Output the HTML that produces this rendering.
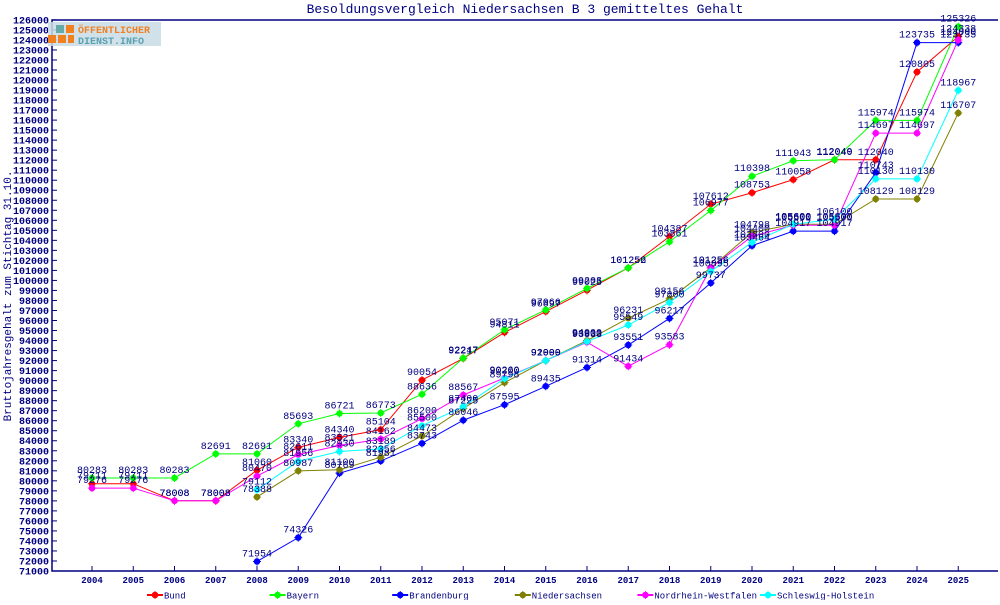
<!DOCTYPE html>
<html><head><meta charset="utf-8"><style>
body{margin:0;background:#fff;}
svg text{font-family:"Liberation Mono","DejaVu Sans Mono",monospace;fill:#000080;}
</style></head><body>
<svg id="s" width="1000" height="600" xmlns="http://www.w3.org/2000/svg"></svg>
<script>
const s=document.getElementById('s');
let h='';
const X=y=>92+(y-2004)*41.25, Y=v=>571-(v-71000)*0.01002;
h+='<rect x="0" y="0" width="1000" height="600" fill="#fff"/>';
h+='<text x="525" y="13" font-size="13" text-anchor="middle">Besoldungsvergleich Niedersachsen B 3 gemitteltes Gehalt</text>';
h+='<text transform="translate(11,296) rotate(-90)" font-size="11" text-anchor="middle">Bruttojahresgehalt zum Stichtag 31.10.</text>';
h+='<polyline points="998,20 52,20 52,571 998,571" fill="none" stroke="#000080" stroke-width="1.5"/>';
for(let v=71000;v<=126000;v+=1000){const y=Y(v);h+=`<line x1="52" x2="57" y1="${y}" y2="${y}" stroke="#000080"/><text x="49" y="${y+3.5}" font-size="10" font-weight="bold" text-anchor="end">${v}</text>`;}
for(let yr=2004;yr<=2025;yr++){const x=X(yr);h+=`<line x1="${x}" x2="${x}" y1="566" y2="571" stroke="#000080"/><text x="${x}" y="583" font-size="9" font-weight="bold" text-anchor="middle">${yr}</text>`;}
const S=[
['Bund','#ff0000',2004,[79711,79711,78008,78008,81060,83340,84340,85104,90054,92217,94811,96897,99025,101252,104387,107612,108753,110058,112040,112040,120805,124338]],
['Bayern','#00ff00',2004,[80283,80283,80283,82691,82691,85693,86721,86773,88636,92247,95071,97066,99203,101256,103861,106977,110398,111943,112049,115974,115974,125326]],
['Brandenburg','#0000ff',2008,[71954,74326,80769,81981,83743,86046,87595,89435,91314,93551,96217,99737,103464,104917,104917,110743,123735,123735]],
['Niedersachsen','#808000',2008,[78388,80987,81100,82356,84473,87225,89798,91999,94000,96231,98156,101256,104798,105600,105600,108129,108129,116707]],
['Nordrhein-Westfalen','#ff00ff',2004,[79276,79276,78008,78008,80470,82611,83521,84162,86200,88567,90260,92000,93833,91434,93583,101256,104400,105500,105500,114697,114697,124000]],
['Schleswig-Holstein','#00ffff',2008,[79112,81956,82930,83189,85500,87400,90200,92000,93900,95549,97800,100895,103800,105600,106100,110130,110130,118967]]];
const mk=(x,y,c)=>`<path d="M${x-1.5},${y-3}h3l1.5,1.5v3l-1.5,1.5h-3l-1.5,-1.5v-3z" fill="${c}"/><path d="M${x-4},${y-0.5}h8v1h-8zM${x-0.5},${y-4}h1v8h-1z" fill="${c}"/>`;
let labels='';
S.forEach((d,i)=>{const pts=d[3].map((v,k)=>[X(d[2]+k),Y(v)]);
h+=`<polyline points="${pts.map(p=>p.join(',')).join(' ')}" fill="none" stroke="${d[1]}" stroke-width="1"/>`;
pts.forEach((p,k)=>{h+=mk(p[0],p[1],d[1]);labels+=`<text x="${p[0]}" y="${p[1]-5}" font-size="10" text-anchor="middle">${d[3][k]}</text>`;});
const lx=155+i*122.6;h+=mk(lx,595,d[1])+`<line x1="${lx-8}" x2="${lx+8}" y1="595" y2="595" stroke="${d[1]}" stroke-width="2"/><text x="${lx+9}" y="598.5" font-size="9">${d[0]}</text>`;});
h+=labels;
h+='<rect x="48" y="22" width="113" height="24" fill="#c8dce6" opacity="0.85"/><rect x="56" y="25" width="8" height="8" fill="#6aa"/><rect x="66" y="25" width="8" height="8" fill="#f08020"/><rect x="48" y="35" width="8" height="8" fill="#f08020"/><rect x="58" y="35" width="8" height="8" fill="#f08020"/><rect x="68" y="35" width="6" height="8" fill="#f08020"/>';
h+='<text x="78" y="33" font-size="10" font-weight="bold" style="fill:#f08020">ÖFFENTLICHER</text><text x="78" y="44" font-size="10" font-weight="bold" style="fill:#5aa0b0">DIENST.INFO</text>';
s.innerHTML=h;
</script>
</body></html>
